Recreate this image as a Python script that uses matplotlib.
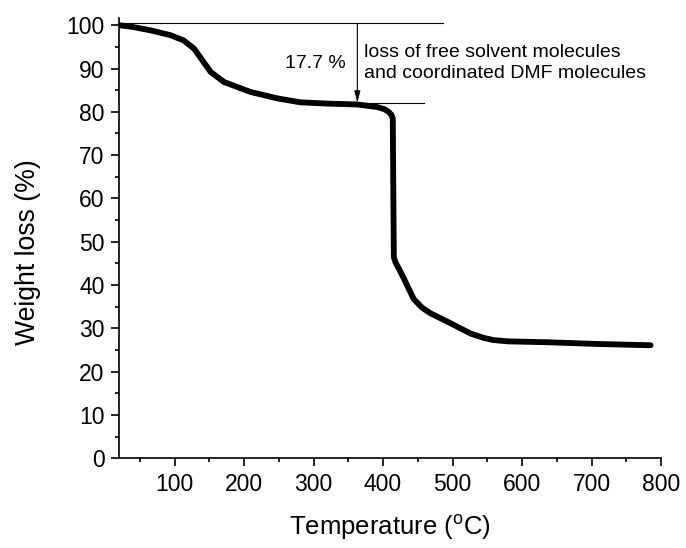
import matplotlib
matplotlib.use("Agg")
import matplotlib.pyplot as plt
from matplotlib.ticker import MultipleLocator

plt.rcParams['font.family'] = ['Liberation Sans', 'DejaVu Sans']

# TGA curve
temperature = [20, 40, 66, 94, 113, 128, 140, 152, 171, 209, 248, 281, 320, 363, 392, 402, 408, 412, 414,
               415.5, 418, 424, 430, 444, 456, 468, 497, 526, 545, 559, 580, 636, 708, 785]
weight = [100.0, 99.6, 98.8, 97.7, 96.5, 94.6, 91.9, 89.2, 86.9, 84.6, 83.1, 82.2, 81.9, 81.7, 81.1, 80.6, 80.0, 79.3, 78.5,
          46.5, 45.2, 43.4, 41.5, 36.8, 34.8, 33.5, 31.2, 28.8, 27.8, 27.3, 27.0, 26.8, 26.4, 26.1]

# annotation values
upper_level = 100.4
lower_level = 82.1
upper_line_end = 486
lower_line_start = 363
lower_line_end = 459
arrow_T = 363
loss_text = "17.7 %"
desc_text = "loss of free solvent molecules\nand coordinated DMF molecules"

x_ticks = [100, 200, 300, 400, 500, 600, 700, 800]
y_ticks = [0, 10, 20, 30, 40, 50, 60, 70, 80, 90, 100]

fig = plt.figure(figsize=(6.86, 5.48), dpi=100)
ax = fig.add_axes([119/686, 1 - 458.3/548, (661 - 119)/686, (458.3 - 18.3)/548])

ax.plot(temperature, weight, color='black', lw=4.2, solid_capstyle='round', solid_joinstyle='round', zorder=3)

# annotation lines
ax.plot([20, upper_line_end], [upper_level, upper_level], color='black', lw=0.8, zorder=2)
ax.plot([lower_line_start, lower_line_end], [lower_level, lower_level], color='black', lw=0.8, zorder=2)
ax.annotate('', xy=(arrow_T, lower_level), xytext=(arrow_T, upper_level),
            arrowprops=dict(arrowstyle='-|>,head_length=0.7,head_width=0.18', color='black', lw=0.8,
                            shrinkA=0, shrinkB=0), zorder=4)
ax.text(arrow_T - 16, 91.2, loss_text, ha='right', va='center', fontsize=14)
ax.text(arrow_T + 9, 91.3, desc_text, ha='left', va='center', fontsize=14, linespacing=1.35)

ax.set_xlim(20, 800)
ax.set_ylim(0, 101.6)
ax.set_xticks(x_ticks)
ax.set_yticks(y_ticks)
ax.xaxis.set_minor_locator(MultipleLocator(50))
ax.yaxis.set_minor_locator(MultipleLocator(5))

for s in ['top', 'right']:
    ax.spines[s].set_visible(False)
for s in ['left', 'bottom']:
    ax.spines[s].set_linewidth(1.2)

ax.tick_params(which='major', direction='out', length=5.5, width=1.2, labelsize=16.5, pad=5)
ax.tick_params(which='minor', direction='out', length=3, width=1.2)

ax.set_xlabel('Temperature ($\\mathregular{^{o}}$C)', fontsize=18.5, labelpad=12)
ax.set_ylabel('Weight loss (%)', fontsize=19.2)
ax.yaxis.set_label_coords(-0.143, 0.4695)

fig.savefig('out.png', dpi=100)
